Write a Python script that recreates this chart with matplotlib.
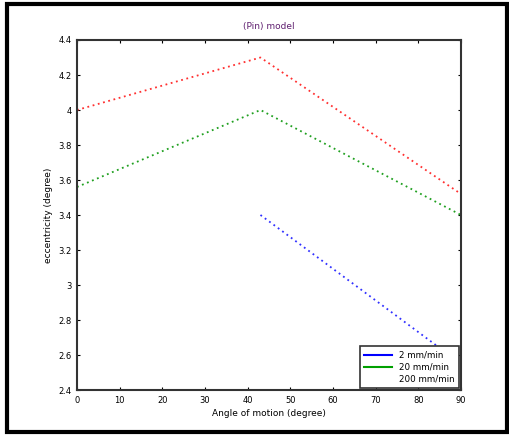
import matplotlib.pyplot as plt
import numpy as np
from matplotlib.lines import Line2D
from matplotlib.patches import Rectangle

# data
angle_red = [0, 43, 90]
val_red = [4.0, 4.30, 3.52]
angle_green = [0, 43, 90]
val_green = [3.56, 4.0, 3.40]
angle_blue = [43, 90]
val_blue = [3.40, 2.55]

legend_labels = ['2 mm/min', '20 mm/min', '200 mm/min']
xticks = [0, 10, 20, 30, 40, 50, 60, 70, 80, 90]
yticks = [2.4, 2.6, 2.8, 3.0, 3.2, 3.4, 3.6, 3.8, 4.0, 4.2, 4.4]
ytick_labels = ['2.4', '2.6', '2.8', '3', '3.2', '3.4', '3.6', '3.8', '4', '4.2', '4.4']

fig = plt.figure(figsize=(5.1, 4.36), dpi=100)
ax = fig.add_axes([77/510, 1-390/436, 384/510, 350/436])

ax.plot(angle_red, val_red, color='#ff3030', linestyle=(0, (1, 2)), linewidth=1.3)
ax.plot(angle_green, val_green, color='#20a020', linestyle=(0, (1, 2)), linewidth=1.3)
ax.plot(angle_blue, val_blue, color='#3030ff', linestyle=(0, (1, 2)), linewidth=1.3)

ax.set_xlim(0, 90)
ax.set_ylim(2.4, 4.4)
ax.set_xticks(xticks)
ax.set_yticks(yticks)
ax.set_yticklabels(ytick_labels)
ax.tick_params(direction='in', length=2, labelsize=6, width=0.8, top=True, right=True, pad=4)
for s in ax.spines.values():
    s.set_linewidth(1.5)
    s.set_color('#333333')

ax.set_title('(Pin) model', fontsize=6.5, color='#602070', pad=8)
ax.set_xlabel('Angle of motion (degree)', fontsize=6.5, labelpad=3)
ax.set_ylabel('eccentricity (degree)', fontsize=6.5, labelpad=4)

handles = [Line2D([], [], color='#0000ff', lw=1.5),
           Line2D([], [], color='#00a000', lw=1.5),
           Line2D([], [], color='white', lw=0)]
leg = ax.legend(handles, legend_labels, loc='lower right', fontsize=6.3, frameon=True,
                fancybox=False, edgecolor='#333333', framealpha=1, borderaxespad=0.2,
                handlelength=3.2, labelspacing=0.35, borderpad=0.5)
leg.get_frame().set_linewidth(1.2)

# outer frame of the figure
fig.patches.append(Rectangle((7/510, 4/436), 500/510, 428/436, transform=fig.transFigure,
                             fill=False, edgecolor='black', linewidth=3))

fig.savefig('out.png', dpi=100)
